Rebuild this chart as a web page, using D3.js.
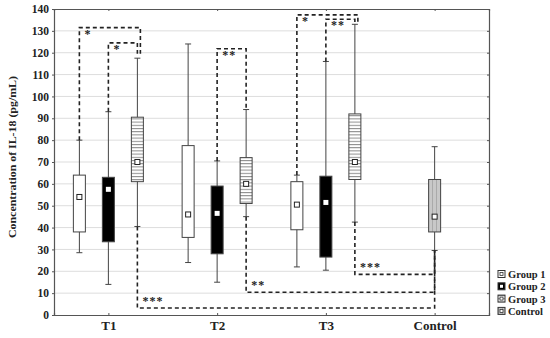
<!DOCTYPE html>
<meta charset="utf-8">
<style>
body{ margin:0; background:#fff; }
text{ font-family:"Liberation Serif", "DejaVu Serif", serif; font-weight:bold; fill:#222; }
</style>
<body>
<script src="https://cdn.jsdelivr.net/npm/d3@7"></script>
<script>
// categories and groups
var times = ["T1", "T2", "T3", "Control"];
var groups = ["Group 1", "Group 2", "Group 3", "Control"];
var yTicks = [0, 10, 20, 30, 40, 50, 60, 70, 80, 90, 100, 110, 120, 130, 140];

// box stats: [time, group, whiskerLow, q1, median, q3, whiskerHigh]
var boxes = [
  ["T1", "Group 1", 28.5, 38, 54, 64, 80],
  ["T1", "Group 2", 14, 33.5, 57.5, 63, 93],
  ["T1", "Group 3", 40.5, 61, 70, 90.5, 117.5],
  ["T2", "Group 1", 24, 35.5, 46, 77.5, 124],
  ["T2", "Group 2", 15, 28, 46.5, 59, 70.5],
  ["T2", "Group 3", 45, 51, 60, 72, 94],
  ["T3", "Group 1", 22, 39, 50.5, 61, 64],
  ["T3", "Group 2", 20.5, 26.5, 51.5, 63.5, 116],
  ["T3", "Group 3", 42.5, 62, 70, 92, 133],
  ["Control", "Control", 29.5, 38, 45, 62, 77]
];

// significance brackets: [from time, from group, to time, to group, level, end, label, direction, end shift]
var brackets = [
  ["T1", "Group 1", "T1", "Group 3", 131.5, 119.5, "*", "up", 3],
  ["T1", "Group 2", "T1", "Group 3", 124.5, 119.5, "*", "up", 0],
  ["T2", "Group 2", "T2", "Group 3", 121.8, 94, "**", "up", 0],
  ["T3", "Group 1", "T3", "Group 3", 137.3, 133, "*", "up", 3],
  ["T3", "Group 2", "T3", "Group 3", 135.3, 133, "**", "up", 0],
  ["T1", "Group 3", "Control", "Control", 3.2, 29.5, "***", "down", 0],
  ["T2", "Group 3", "Control", "Control", 10.4, 29.5, "**", "down", 0],
  ["T3", "Group 3", "Control", "Control", 18.6, 29.5, "***", "down", 0]
];

var W = 550, H = 338;
var m = {left: 54, right: 61, top: 9, bottom: 23};

var svg = d3.select("body").append("svg")
    .attr("width", W)
    .attr("height", H);

var defs = svg.append("defs");
var hp = defs.append("pattern").attr("id", "hlines")
    .attr("patternUnits", "userSpaceOnUse").attr("width", 4).attr("height", 3.2);
hp.append("rect").attr("width", 4).attr("height", 3.2).attr("fill", "#fff");
hp.append("line").attr("x1", 0).attr("x2", 4).attr("y1", 0.5).attr("y2", 0.5)
    .attr("stroke", "#888").attr("stroke-width", 1);
var vp = defs.append("pattern").attr("id", "ctrl")
    .attr("patternUnits", "userSpaceOnUse").attr("width", 4).attr("height", 4);
vp.append("rect").attr("width", 4).attr("height", 4).attr("fill", "#c8c8c8");
vp.append("line").attr("x1", 0.5).attr("x2", 0.5).attr("y1", 0).attr("y2", 4)
    .attr("stroke", "#aaa").attr("stroke-width", 1);

var x = d3.scalePoint().domain(times)
    .range([m.left, W - m.right]).padding(0.5);
var off = d3.scalePoint().domain(["Group 1", "Group 2", "Group 3"])
    .range([-29, 29]);
var y = d3.scaleLinear().domain([0, 140]).range([H - m.bottom, m.top]);

function bx(t, g) { return g == "Control" ? x(t) : x(t) + off(g); }
var fills = {"Group 1": "#fff", "Group 2": "#000", "Group 3": "url(#hlines)", "Control": "url(#ctrl)"};

// grid
svg.append("g").selectAll("line").data(yTicks.slice(1, -1)).enter().append("line")
    .attr("x1", m.left).attr("x2", W - m.right)
    .attr("y1", function(d) { return y(d); }).attr("y2", function(d) { return y(d); })
    .attr("stroke", "#ddd").attr("stroke-width", 1);

// axes
var ax = svg.append("g").attr("transform", "translate(" + m.left + ",0)")
    .call(d3.axisLeft(y).tickValues(yTicks).tickSize(2).tickPadding(3));
ax.selectAll("text").style("font-size", "11.5px");
var bxAxis = svg.append("g").attr("transform", "translate(0," + (H - m.bottom) + ")")
    .call(d3.axisBottom(x).tickSize(-2).tickPadding(6));
bxAxis.selectAll("text").style("font-size", "13px");
svg.append("g").attr("transform", "translate(" + (W - m.right) + ",0)")
    .call(d3.axisRight(y).tickValues(yTicks).tickSize(-2).tickFormat(""));
svg.append("g").attr("transform", "translate(0," + m.top + ")")
    .call(d3.axisTop(x).tickSize(-2).tickFormat(""));
svg.selectAll(".domain").attr("stroke", "#555").attr("stroke-width", 1.2);
svg.selectAll(".tick line").attr("stroke", "#555");

// y label
svg.append("text")
    .attr("transform", "translate(16,157) rotate(-90)")
    .attr("text-anchor", "middle")
    .attr("textLength", 162)
    .attr("lengthAdjust", "spacingAndGlyphs")
    .style("font-size", "11px")
    .text("Concentration of  IL-18 (pg/mL)");

// boxes
var bw = 12;
var node = svg.append("g").selectAll("g").data(boxes).enter().append("g");
node.append("line")
    .attr("x1", function(d) { return bx(d[0], d[1]); })
    .attr("x2", function(d) { return bx(d[0], d[1]); })
    .attr("y1", function(d) { return y(d[2]); })
    .attr("y2", function(d) { return y(d[6]); })
    .attr("stroke", "#444");
node.selectAll(".cap").data(function(d) { return [[d[0], d[1], d[2]], [d[0], d[1], d[6]]]; })
  .enter().append("line")
    .attr("x1", function(d) { return bx(d[0], d[1]) - 3; })
    .attr("x2", function(d) { return bx(d[0], d[1]) + 3; })
    .attr("y1", function(d) { return y(d[2]); })
    .attr("y2", function(d) { return y(d[2]); })
    .attr("stroke", "#444");
node.append("rect")
    .attr("x", function(d) { return bx(d[0], d[1]) - bw / 2; })
    .attr("y", function(d) { return y(d[5]); })
    .attr("width", bw)
    .attr("height", function(d) { return y(d[3]) - y(d[5]); })
    .attr("fill", function(d) { return fills[d[1]]; })
    .attr("stroke", "#444");
node.append("rect")
    .attr("x", function(d) { return bx(d[0], d[1]) - 2.5; })
    .attr("y", function(d) { return y(d[4]) - 2.5; })
    .attr("width", 5).attr("height", 5)
    .attr("fill", "#fff")
    .attr("stroke", function(d) { return d[1] == "Group 2" ? "none" : "#222"; })
    .attr("stroke-width", 1);

// brackets
var bg = svg.append("g");
brackets.forEach(function(b) {
  var x1 = bx(b[0], b[1]), x2 = bx(b[2], b[3]) + b[8];
  var from = boxes.filter(function(d) { return d[0] == b[0] && d[1] == b[1]; })[0];
  var start = b[7] == "up" ? from[6] : from[2];
  var pts = [[x1, y(start)], [x1, y(b[4])], [x2, y(b[4])], [x2, y(b[5])]];
  bg.append("path")
      .attr("d", d3.line()(pts))
      .attr("fill", "none")
      .attr("stroke", "#222")
      .attr("stroke-width", 1.6)
      .attr("stroke-dasharray", "4,3");
  bg.append("text")
      .attr("x", x1 + 5)
      .attr("y", b[7] == "up" ? y(b[4]) + 10 : y(b[4]) - 3)
      .style("font-size", "12px")
      .style("letter-spacing", "1px")
      .text(b[6]);
});

// legend
var lg = svg.append("g").selectAll("g").data(groups).enter().append("g")
    .attr("transform", function(d, i) { return "translate(498," + (270.5 + i * 12.3) + ")"; });
lg.append("rect").attr("width", 7).attr("height", 7)
    .attr("fill", function(d) { return fills[d]; })
    .attr("stroke", "#333");
lg.append("rect").attr("x", 2).attr("y", 2).attr("width", 3).attr("height", 3)
    .attr("fill", "#fff").attr("stroke", function(d) { return d == "Group 2" ? "none" : "#333"; })
    .attr("stroke-width", 0.8);
lg.append("text").attr("x", 10).attr("y", 7.5)
    .style("font-size", "10.5px")
    .text(function(d) { return d; });
</script>
</body>
